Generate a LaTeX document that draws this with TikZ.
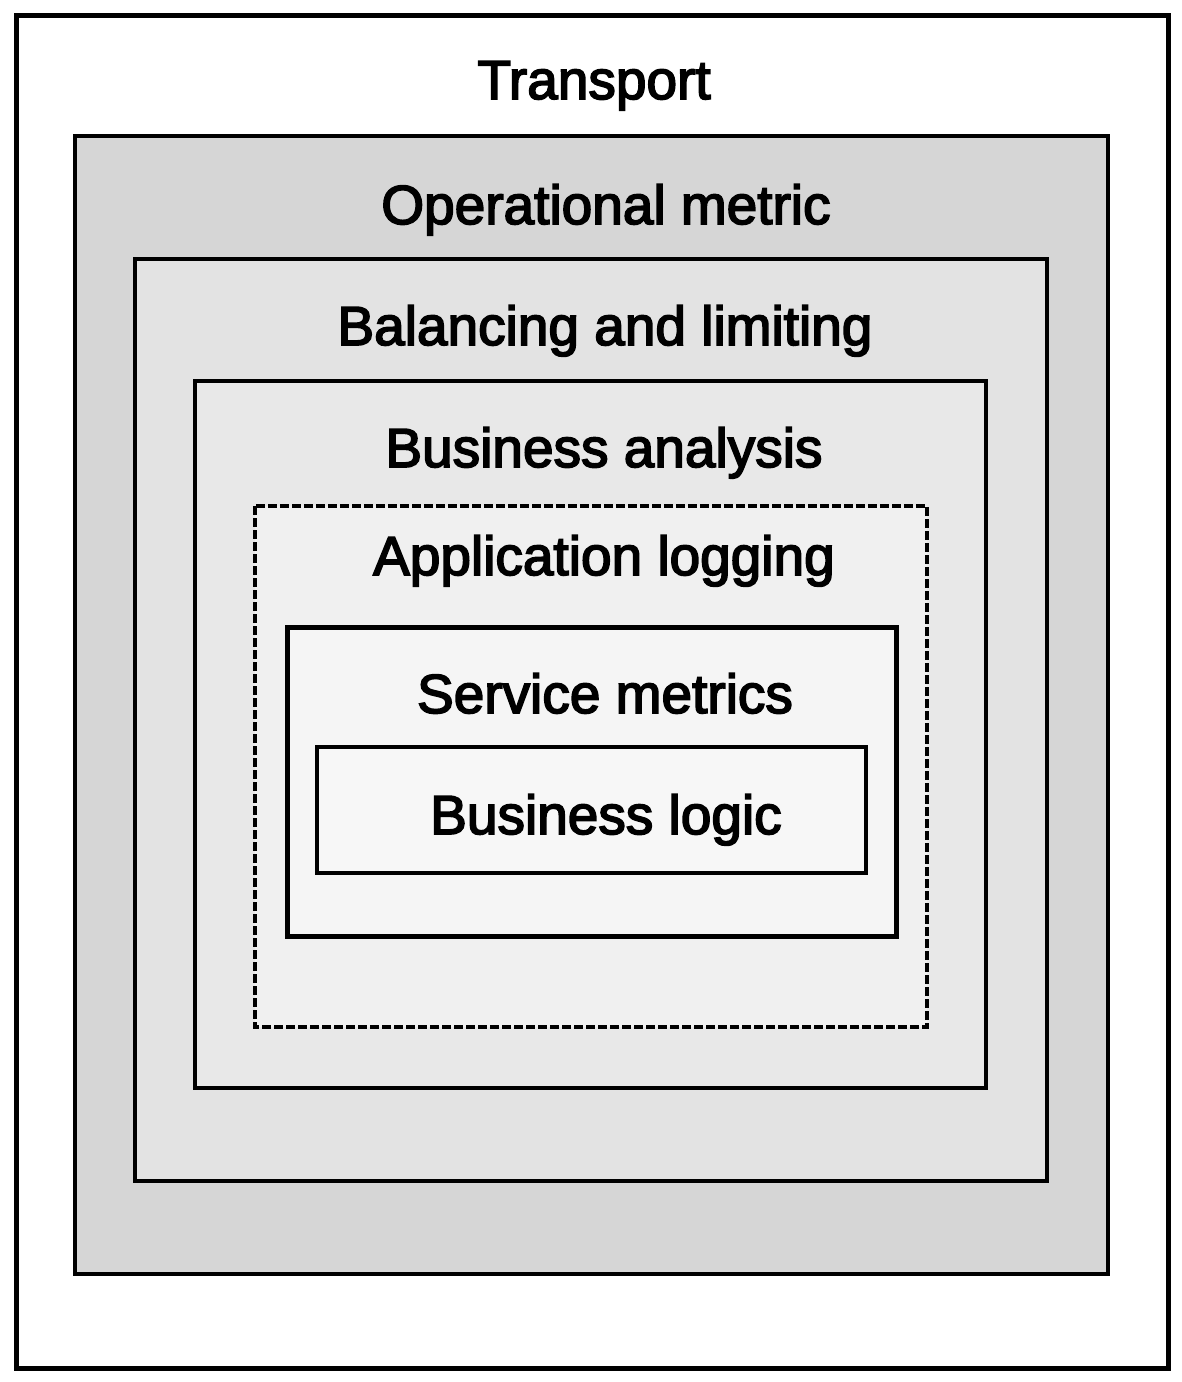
\documentclass[tikz,border=0pt]{standalone}
\usepackage{fontspec}
\newfontfamily\layerfont[FakeBold=3]{Liberation Sans}
\begin{document}
\begin{tikzpicture}[x=1pt,y=-1pt,
  layer/.style={draw=black, line width=#1, line join=miter},
  layer/.default=4pt,
  caption/.style={font=\layerfont\fontsize{55}{60}\selectfont, anchor=base, inner sep=0pt}]
  \useasboundingbox (0,0) rectangle (1182,1382);
  \fill[white] (0,0) rectangle (1182,1382);

  % nested layers, outermost first
  \draw[layer=5pt, fill=white] (16,15) rectangle (1168,1368);
  \draw[layer=4.5pt, fill=black!16] (75,136) rectangle (1108,1274);
  \draw[layer=4pt, fill=black!11] (135,259) rectangle (1047,1181);
  \draw[layer=4pt, fill=black!9] (195,381) rectangle (986,1088);
  \draw[layer=3.5pt, dashed, dash pattern=on 9pt off 3pt, fill=black!6] (255,506) rectangle (927,1027);
  \draw[layer=5pt, fill=black!4] (287,627) rectangle (896,936);
  \draw[layer=4pt, fill=black!3] (317,747) rectangle (866,873);

  % layer names
  \node[caption] (transport) at (594,99) {Transport};
  \node[caption] (opmetric) at (606,224) {Operational metric};
  \node[caption] (balancing) at (605,345) {Balancing and limiting};
  \node[caption] (bizanalysis) at (604,467) {Business analysis};
  \node[caption] (applog) at (604,575) {Application logging};
  \node[caption] (svcmetrics) at (605,713) {Service metrics};
  \node[caption] (bizlogic) at (606,834) {Business logic};
\end{tikzpicture}
\end{document}
